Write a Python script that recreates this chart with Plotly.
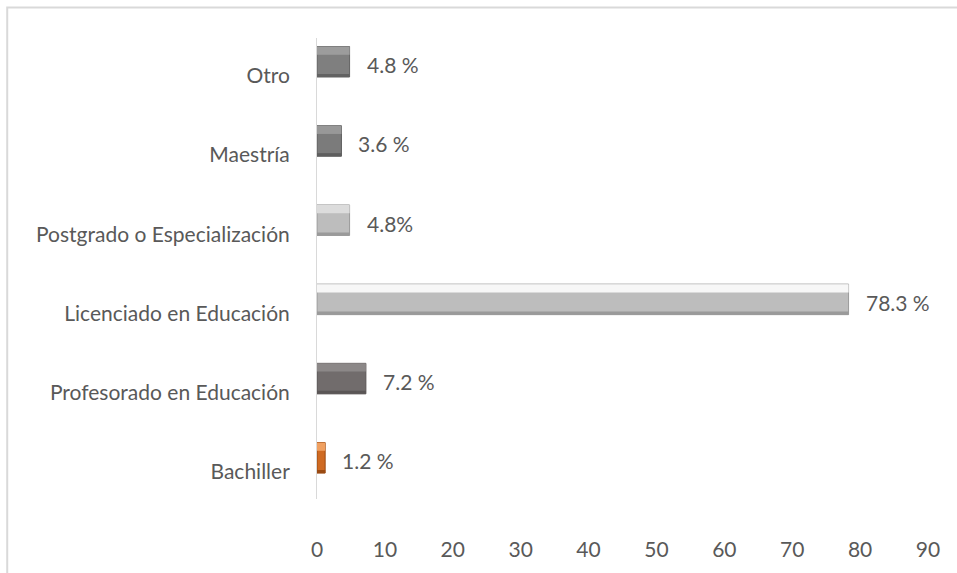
import plotly.graph_objects as go

# Nivel académico de los docentes (porcentaje)
categorias = ["Bachiller", "Profesorado en Educación", "Licenciado en Educación",
              "Postgrado o Especialización", "Maestría", "Otro"]
porcentajes = [1.2, 7.2, 78.3, 4.8, 3.6, 4.8]
etiquetas = ["1.2 %", "7.2 %", "78.3 %", "4.8%", "3.6 %", "4.8 %"]

# Colores: cara, reflejo superior y sombra inferior de cada barra
color_cara = ["#cf6a22", "#716c6c", "#bdbdbd", "#bdbdbd", "#7b7b7b", "#7f7f7f"]
color_luz = ["#f0a060", "#8c8888", "#f7f7f7", "#dcdcdc", "#989898", "#9c9c9c"]
color_sombra = ["#9a4a12", "#5a5656", "#9a9a9a", "#9a9a9a", "#5e5e5e", "#626262"]

FUENTE = "Lato"
TAM = 21
GRIS_TEXTO = "#595959"

ALTO = 0.385  # grosor de barra en unidades de categoría

fig = go.Figure()

# Cuerpo de la barra
fig.add_trace(go.Bar(
    y=categorias, x=porcentajes, orientation="h",
    width=ALTO, offset=-ALTO / 2,
    marker=dict(color=color_cara, line=dict(color=color_sombra, width=1)),
    hoverinfo="skip", showlegend=False,
))
# Reflejo superior (efecto biselado)
fig.add_trace(go.Bar(
    y=categorias, x=porcentajes, orientation="h",
    width=ALTO * 0.27, offset=ALTO / 2 - ALTO * 0.27,
    marker=dict(color=color_luz, line=dict(width=0)),
    hoverinfo="skip", showlegend=False,
))
# Sombra inferior
fig.add_trace(go.Bar(
    y=categorias, x=porcentajes, orientation="h",
    width=ALTO * 0.1, offset=-ALTO / 2,
    marker=dict(color=color_sombra, line=dict(width=0)),
    hoverinfo="skip", showlegend=False,
))

# Etiquetas de valor a la derecha de cada barra
for cat, val, txt in zip(categorias, porcentajes, etiquetas):
    fig.add_annotation(
        x=val, y=cat, text=txt, showarrow=False,
        xanchor="left", yanchor="middle", xshift=15, yshift=-3,
        font=dict(family=FUENTE, size=TAM, color=GRIS_TEXTO),
    )

# Borde del área del gráfico
fig.add_shape(
    type="rect", xref="paper", yref="paper",
    x0=-0.507, x1=1.06, y0=-0.2, y1=1.066,
    line=dict(color="#d9d9d9", width=2), fillcolor="rgba(0,0,0,0)", layer="below",
)

fig.update_layout(
    width=957, height=573,
    margin=dict(l=317, r=29, t=38, b=68),
    barmode="overlay",
    plot_bgcolor="white", paper_bgcolor="white",
    font=dict(family=FUENTE, size=TAM, color=GRIS_TEXTO),
    xaxis=dict(
        range=[0, 90], tick0=0, dtick=10,
        showgrid=False, zeroline=False, showline=False,
        ticks="", ticklabelstandoff=36,
        tickfont=dict(family=FUENTE, size=TAM, color=GRIS_TEXTO),
    ),
    yaxis=dict(
        type="category", categoryorder="array", categoryarray=categorias,
        range=[-0.52, 5.3],
        showgrid=False, zeroline=False,
        showline=True, linecolor="#d9d9d9", linewidth=1,
        ticks="", ticklabelstandoff=22, ticklabelshift=14,
        tickfont=dict(family=FUENTE, size=TAM, color=GRIS_TEXTO),
    ),
)

fig.write_html("out.html")
